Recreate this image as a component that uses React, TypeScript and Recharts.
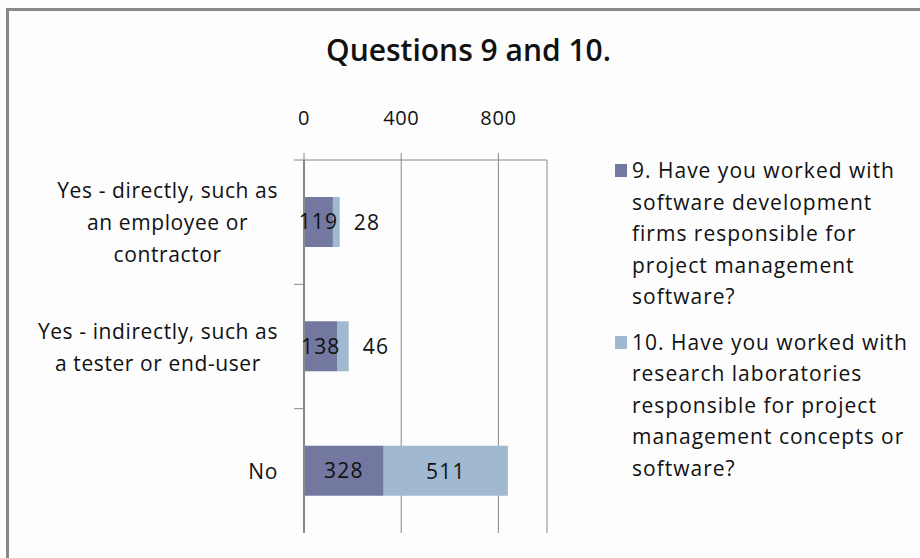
import React from 'react';
import { BarChart, Bar, XAxis, YAxis, CartesianGrid, LabelList, Legend } from 'recharts';

// category labels, wrapped the way the original chart wraps them
const categoryLines = [
  ['Yes - directly, such as', 'an employee or', 'contractor'],
  ['Yes - indirectly, such as', 'a tester or end-user'],
  ['No'],
];
const categories = categoryLines.map((lines) => lines.join(' '));
const q9Values = [119, 138, 328];
const q10Values = [28, 46, 511];
const xTicks = [0, 400, 800];

const seriesNames = [
  '9. Have you worked with software development firms responsible for project management software?',
  '10. Have you worked with research laboratories responsible for project management concepts or software?',
];
const legendLines = [
  ['9. Have you worked with', 'software development', 'firms responsible for', 'project management', 'software?'],
  ['10. Have you worked with', 'research laboratories', 'responsible for project', 'management concepts or', 'software?'],
];

const data = categories.map((name, i) => ({ name, q9: q9Values[i], q10: q10Values[i] }));

const W = 920;
const H = 558;
const FONT = '"Open Sans", sans-serif';
const DARK = '#7278a0';
const LIGHT = '#a0b8d0';
const AXIS = '#888888';
const MARGIN = { top: 130, right: 373, bottom: 25, left: 14 };
const X_AXIS_H = 30;
const Y_AXIS_W = 290;
const AXIS_X = MARGIN.left + Y_AXIS_W;
const PLOT_H = H - MARGIN.top - X_AXIS_H - MARGIN.bottom;
const CAT_FS = 21;
const CAT_LS = 0.6;
const CAT_LH = 32;
const VAL_FS = 21;
const VAL_LS = 1.2;

let measureCtx: CanvasRenderingContext2D | null = null;
const textWidth = (s: string, size: number, spacing: number) => {
  if (!measureCtx) measureCtx = document.createElement('canvas').getContext('2d');
  if (!measureCtx) return s.length * size * 0.5;
  measureCtx.font = `${size}px "Open Sans"`;
  return measureCtx.measureText(s).width + spacing * s.length;
};

const CategoryTick = (props: any) => {
  const { y, payload } = props;
  const idx = categories.indexOf(payload.value);
  const lines = categoryLines[idx] || [payload.value];
  const band = PLOT_H / categories.length;
  const blockW = Math.max(...lines.map((l) => textWidth(l, CAT_FS, CAT_LS)));
  const cx = AXIS_X - 26 - blockW / 2;
  const first = y - ((lines.length - 1) / 2) * CAT_LH;
  return (
    <g>
      <line x1={AXIS_X - 10} x2={AXIS_X} y1={y - band / 2} y2={y - band / 2} stroke={AXIS} />
      {lines.map((l, i) => (
        <text key={i} x={cx} y={first + i * CAT_LH} textAnchor="middle" dominantBaseline="central"
          fontFamily={FONT} fontSize={CAT_FS} letterSpacing={CAT_LS} fill="#111">
          {l}
        </text>
      ))}
    </g>
  );
};

// small segments get their label pushed to the right of the bar
const Q10Label = (props: any) => {
  const { x, y, width, height, value } = props;
  const fits = width > 40;
  return (
    <text x={fits ? x + width / 2 : x + width + 14} y={y + height / 2} textAnchor={fits ? 'middle' : 'start'}
      dominantBaseline="central" fontFamily={FONT} fontSize={VAL_FS} letterSpacing={VAL_LS} fill="#111">
      {value}
    </text>
  );
};

const LegendBox = () => (
  <div style={{ fontFamily: FONT, fontSize: 21, letterSpacing: 1, color: '#111', lineHeight: '31.5px' }}>
    {legendLines.map((lines, i) => (
      <div key={i} title={seriesNames[i]} style={{ display: 'flex', marginBottom: 14 }}>
        <div style={{ width: 12, height: 13, background: i === 0 ? DARK : LIGHT, marginTop: 9, marginRight: 5, flexShrink: 0 }} />
        <div>
          {lines.map((l, j) => (
            <div key={j} style={{ whiteSpace: 'nowrap' }}>{l}</div>
          ))}
        </div>
      </div>
    ))}
  </div>
);

export default function App() {
  return (
    <div style={{ position: 'absolute', left: 0, top: 0, width: W, height: H, background: '#fdfdfd', overflow: 'hidden' }}>
      <div style={{ position: 'absolute', left: 6, top: 8, width: W, height: H, borderLeft: `3px solid ${AXIS}`, borderTop: `3px solid ${AXIS}` }} />
      <div style={{ position: 'absolute', left: 0, width: 937, top: 29, textAlign: 'center', fontFamily: FONT, fontSize: 30, fontWeight: 600, color: '#111', whiteSpace: 'nowrap' }}>
        Questions 9 and 10.
      </div>
      <BarChart width={W} height={H} data={data} layout="vertical" margin={MARGIN} style={{ position: 'absolute', left: 0, top: 0 }}>
        <CartesianGrid horizontal={false} stroke={AXIS} />
        <XAxis type="number" orientation="top" domain={[0, 1000]} ticks={xTicks} height={X_AXIS_H}
          axisLine={{ stroke: AXIS }} tickLine={{ stroke: AXIS }} tickSize={7} tickMargin={28}
          tick={{ fontFamily: FONT, fontSize: 20, letterSpacing: 0.6, fill: '#111' }} />
        <YAxis type="category" dataKey="name" width={Y_AXIS_W} axisLine={{ stroke: AXIS, strokeWidth: 2 }}
          tickLine={false} tick={<CategoryTick />} interval={0} />
        <Legend layout="horizontal" verticalAlign="middle" align="center" content={<LegendBox />}
          wrapperStyle={{ left: 615, top: 155, width: 305 }} />
        <Bar dataKey="q9" stackId="a" name={seriesNames[0]} fill={DARK} barSize={50} isAnimationActive={false}>
          <LabelList dataKey="q9" position="center" fill="#111" fontFamily={FONT} fontSize={VAL_FS} letterSpacing={VAL_LS} />
        </Bar>
        <Bar dataKey="q10" stackId="a" name={seriesNames[1]} fill={LIGHT} barSize={50} isAnimationActive={false}>
          <LabelList dataKey="q10" content={<Q10Label />} />
        </Bar>
      </BarChart>
    </div>
  );
}
